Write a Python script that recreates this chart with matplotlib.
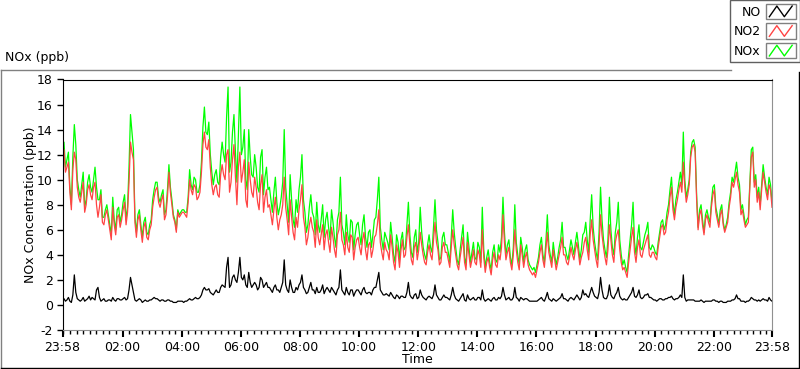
import matplotlib
matplotlib.use('Agg')
from matplotlib import pyplot as plt
from matplotlib import dates as mdates
from matplotlib.legend_handler import HandlerBase
from matplotlib.lines import Line2D
from matplotlib.patches import Rectangle
import pandas as pd

plt.rcParams['font.family'] = 'DejaVu Sans'
plt.rcParams['axes.unicode_minus'] = False

# 3-minute samples, 23:58 -> 23:58 next day (one row per hour)
start = '2021-03-01 23:58'
step = '3min'

no2 = [11.8, 12.4, 10.6, 11.0, 11.4, 9.0, 7.6, 10.8, 12.2, 11.6, 9.4, 8.6, 8.2, 9.0, 9.8, 7.4, 8.0, 9.2, 9.6, 8.8,
       8.4, 9.4, 9.8, 8.0, 7.0, 7.8, 8.8, 6.6, 6.4, 7.2, 7.6, 6.8, 6.0, 5.2, 7.8, 6.4, 5.6, 7.0, 7.2, 6.2,
       6.8, 7.6, 8.2, 6.4, 7.4, 9.8, 13.0, 12.2, 11.6, 6.6, 5.4, 6.8, 7.2, 6.0, 5.0, 6.2, 6.6, 5.4, 5.2, 6.0,
       6.4, 7.8, 8.6, 9.2, 9.4, 8.2, 7.8, 8.4, 8.8, 6.8, 7.2, 8.6, 10.6, 9.0, 8.0, 7.0, 6.6, 5.8, 7.4, 7.0,
       7.2, 7.4, 7.4, 7.2, 7.0, 8.2, 10.0, 9.2, 8.8, 9.6, 9.4, 8.4, 8.6, 9.0, 10.6, 12.8, 13.8, 12.6, 12.4, 13.2,
       11.0, 9.6, 8.8, 9.4, 9.6, 8.8, 8.6, 10.4, 11.2, 10.4, 10.0, 12.0, 12.4, 9.0, 9.8, 11.6, 12.8, 10.2, 8.0, 11.0,
       12.2, 9.8, 10.6, 11.6, 8.4, 7.8, 11.4, 10.0, 9.0, 8.6, 10.2, 9.4, 8.2, 7.6, 9.6, 10.4, 7.4, 8.6, 9.2, 7.8,
       8.0, 7.2, 6.4, 7.6, 8.6, 7.0, 6.0, 6.8, 7.2, 8.0, 10.2, 7.8, 6.8, 5.6, 8.4, 7.0, 5.8, 5.2, 7.0, 6.2,
       7.6, 8.4, 9.6, 7.0, 6.2, 4.8, 5.4, 6.4, 7.0, 6.2, 5.8, 4.6, 6.8, 5.4, 4.8, 5.6, 6.4, 4.4, 5.6, 6.0,
       5.0, 4.2, 6.2, 5.4, 4.4, 3.8, 5.6, 6.0, 7.4, 5.2, 4.8, 4.0, 5.8, 4.6, 4.2, 5.6, 5.4, 3.6, 4.6, 5.2,
       5.4, 4.6, 4.0, 5.2, 5.8, 4.4, 3.6, 4.8, 5.0, 3.8, 4.4, 5.4, 5.6, 6.4, 7.6, 5.0, 4.2, 3.6, 5.0, 4.4,
       4.2, 3.6, 5.6, 4.6, 3.4, 2.8, 4.8, 4.2, 3.0, 4.4, 5.2, 3.8, 4.0, 5.4, 6.4, 4.8, 3.6, 3.2, 4.6, 5.0,
       3.6, 4.4, 5.8, 4.8, 4.0, 3.4, 3.2, 4.2, 4.8, 4.0, 3.6, 5.2, 6.6, 5.0, 4.4, 3.2, 3.4, 4.6, 5.0, 4.2,
       4.2, 3.6, 3.0, 4.6, 6.0, 4.8, 4.0, 3.2, 2.8, 3.8, 4.6, 5.4, 3.4, 2.8, 5.0, 4.0, 3.0, 3.6, 4.4, 3.4,
       3.2, 4.4, 4.0, 3.0, 6.0, 3.8, 2.6, 3.4, 3.8, 3.0, 2.4, 3.6, 4.2, 3.2, 3.0, 4.0, 3.6, 4.6, 7.2, 5.0,
       3.6, 4.2, 4.6, 3.4, 2.8, 4.0, 6.0, 4.4, 3.4, 2.8, 4.8, 4.0, 3.0, 3.8, 4.2, 3.2, 2.8, 2.6, 2.4, 2.6,
       2.2, 2.8, 3.4, 4.2, 4.8, 3.6, 3.0, 4.4, 5.8, 4.2, 3.6, 3.0, 4.4, 3.6, 2.8, 3.4, 4.0, 4.6, 5.4, 4.0,
       4.0, 3.4, 3.2, 3.8, 4.6, 4.0, 3.6, 4.4, 5.0, 4.2, 3.2, 3.8, 4.2, 5.0, 5.4, 4.4, 3.6, 5.6, 6.8, 5.2,
       4.4, 3.6, 3.0, 4.8, 7.2, 5.6, 4.6, 3.8, 3.2, 4.4, 6.4, 5.2, 4.0, 3.4, 5.0, 5.6, 6.0, 4.4, 3.4, 2.8,
       3.0, 2.6, 2.2, 3.4, 4.4, 5.4, 6.2, 4.2, 3.4, 4.6, 5.2, 4.0, 3.8, 4.4, 4.8, 5.2, 5.6, 4.0, 3.8, 4.2,
       4.2, 3.8, 3.6, 4.6, 5.4, 6.2, 6.4, 5.6, 5.8, 6.8, 7.4, 8.6, 9.4, 7.6, 6.8, 7.8, 8.4, 9.2, 9.8, 9.0,
       11.4, 9.4, 8.2, 8.8, 9.6, 11.8, 12.6, 12.8, 12.2, 8.4, 6.0, 7.2, 7.6, 6.4, 5.6, 6.8, 7.2, 6.6, 6.2, 7.8,
       8.8, 9.2, 7.4, 6.8, 6.2, 7.2, 7.6, 6.4, 5.8, 6.2, 6.6, 7.8, 8.6, 9.8, 9.4, 10.0, 10.6, 9.6, 9.0, 7.2,
       7.6, 6.8, 6.2, 6.4, 6.6, 9.4, 11.8, 12.2, 9.4, 10.0, 8.2, 9.0, 7.6, 9.2, 10.6, 9.8, 9.0, 8.4, 9.6, 9.2, 7.8]

no = [0.4, 0.5, 0.3, 0.4, 0.6, 0.3, 0.2, 0.8, 2.4, 1.0, 0.5, 0.4, 0.3, 0.4, 0.6, 0.3, 0.4, 0.5, 0.7, 0.4,
      0.6, 0.5, 0.4, 1.2, 1.4, 0.6, 0.3, 0.4, 0.5, 0.3, 0.3, 0.4, 0.4, 0.3, 0.6, 0.4, 0.3, 0.5, 0.5, 0.4,
      0.4, 0.5, 0.6, 0.4, 0.5, 1.2, 2.2, 1.6, 1.0, 0.4, 0.3, 0.4, 0.5, 0.4, 0.2, 0.3, 0.4, 0.3, 0.3, 0.4,
      0.4, 0.5, 0.6, 0.5, 0.5, 0.4, 0.3, 0.4, 0.4, 0.3, 0.3, 0.4, 0.4, 0.3, 0.3, 0.2, 0.2, 0.2, 0.3, 0.3,
      0.3, 0.3, 0.2, 0.3, 0.3, 0.4, 0.5, 0.4, 0.4, 0.5, 0.6, 0.5, 0.5, 0.6, 0.8, 1.2, 1.4, 1.2, 1.2, 1.3,
      1.0, 0.9, 0.8, 1.0, 1.2, 1.0, 1.0, 1.4, 1.6, 1.5, 1.4, 3.0, 3.8, 1.4, 1.6, 2.2, 2.4, 2.0, 1.8, 2.6,
      3.8, 2.2, 2.0, 2.4, 1.6, 1.4, 2.6, 1.8, 1.4, 1.6, 1.8, 1.6, 1.2, 1.4, 2.2, 2.0, 1.4, 1.6, 1.8, 1.4,
      1.4, 1.2, 1.0, 1.4, 1.6, 1.2, 1.2, 1.0, 1.4, 1.8, 3.6, 1.6, 1.2, 1.0, 2.0, 1.4, 1.0, 1.0, 1.4, 1.2,
      1.6, 1.8, 2.4, 1.4, 1.2, 0.9, 1.0, 1.4, 1.8, 1.2, 1.2, 0.9, 1.4, 1.0, 1.0, 1.2, 1.6, 0.9, 1.2, 1.4,
      1.2, 1.0, 1.4, 1.2, 1.0, 0.8, 1.2, 1.4, 2.8, 1.2, 1.0, 0.8, 1.4, 1.0, 0.8, 1.2, 1.2, 0.7, 1.0, 1.2,
      1.2, 1.0, 0.8, 1.2, 1.4, 1.0, 0.9, 1.0, 1.0, 0.8, 1.2, 1.4, 1.4, 2.0, 2.6, 1.2, 1.0, 0.8, 0.8, 0.9,
      0.8, 0.7, 1.0, 0.8, 0.6, 0.5, 0.8, 0.7, 0.5, 0.7, 0.7, 0.6, 0.6, 1.0, 1.8, 0.8, 0.6, 0.5, 0.8, 0.9,
      0.5, 0.6, 1.2, 0.8, 0.6, 0.5, 0.4, 0.6, 0.7, 0.6, 0.5, 0.8, 1.6, 0.8, 0.6, 0.4, 0.4, 0.6, 0.8, 0.6,
      0.6, 0.5, 0.4, 0.8, 1.4, 0.8, 0.5, 0.4, 0.3, 0.5, 0.7, 0.9, 0.4, 0.3, 0.8, 0.5, 0.4, 0.5, 0.6, 0.4,
      0.4, 0.6, 0.6, 0.4, 1.2, 0.5, 0.3, 0.4, 0.5, 0.4, 0.3, 0.5, 0.6, 0.4, 0.4, 0.6, 0.5, 0.7, 1.4, 0.8,
      0.4, 0.5, 0.6, 0.4, 0.4, 0.6, 1.4, 0.6, 0.5, 0.3, 0.6, 0.5, 0.4, 0.5, 0.5, 0.4, 0.3, 0.3, 0.3, 0.3,
      0.3, 0.3, 0.4, 0.5, 0.6, 0.4, 0.3, 0.6, 1.0, 0.5, 0.4, 0.3, 0.5, 0.4, 0.3, 0.4, 0.5, 0.6, 0.9, 0.5,
      0.5, 0.4, 0.3, 0.5, 0.6, 0.5, 0.4, 0.6, 0.8, 0.6, 0.4, 0.6, 1.2, 0.8, 0.9, 0.7, 0.6, 1.0, 1.4, 1.0,
      0.7, 0.6, 0.5, 1.0, 2.2, 1.2, 0.6, 0.5, 0.5, 0.8, 1.6, 0.8, 0.6, 0.5, 0.8, 1.0, 1.4, 0.7, 0.5, 0.4,
      0.5, 0.4, 0.4, 0.6, 0.8, 1.0, 1.4, 0.7, 0.6, 0.8, 1.2, 0.6, 0.5, 0.6, 0.8, 0.8, 0.9, 0.6, 0.6, 0.5,
      0.4, 0.4, 0.3, 0.4, 0.5, 0.5, 0.4, 0.4, 0.5, 0.5, 0.6, 0.6, 0.7, 0.5, 0.4, 0.5, 0.5, 0.6, 0.8, 0.6,
      2.4, 0.6, 0.3, 0.4, 0.4, 0.4, 0.4, 0.4, 0.3, 0.3, 0.3, 0.3, 0.4, 0.3, 0.2, 0.3, 0.3, 0.3, 0.3, 0.3,
      0.4, 0.4, 0.3, 0.3, 0.2, 0.3, 0.3, 0.2, 0.2, 0.2, 0.3, 0.3, 0.3, 0.4, 0.4, 0.5, 0.8, 0.5, 0.5, 0.3,
      0.3, 0.3, 0.2, 0.3, 0.3, 0.4, 0.6, 0.5, 0.4, 0.4, 0.3, 0.4, 0.3, 0.4, 0.5, 0.4, 0.4, 0.3, 0.6, 0.4, 0.3]

nox = [12.4, 13.0, 11.0, 11.6, 12.2, 9.4, 8.0, 11.8, 14.4, 12.8, 10.0, 9.2, 8.6, 9.6, 10.6, 7.8, 8.4, 9.8, 10.4, 9.4,
       9.0, 10.0, 11.0, 9.4, 8.4, 8.4, 9.2, 7.0, 7.0, 7.6, 8.0, 7.2, 6.4, 5.6, 8.6, 6.8, 6.0, 7.6, 7.8, 6.6,
       7.2, 8.2, 8.8, 6.8, 7.8, 11.0, 15.2, 13.8, 12.4, 7.0, 5.8, 7.2, 7.6, 6.4, 5.4, 6.6, 7.0, 5.8, 5.6, 6.4,
       6.8, 8.4, 9.2, 9.8, 9.8, 8.6, 8.2, 8.8, 9.2, 7.2, 7.6, 9.2, 11.2, 9.4, 8.4, 7.2, 6.8, 6.0, 7.6, 7.2,
       7.4, 7.6, 7.6, 7.4, 7.4, 8.6, 10.8, 9.6, 9.2, 10.2, 10.0, 9.0, 9.0, 9.6, 11.4, 14.2, 15.8, 13.8, 13.6, 14.6,
       12.0, 10.6, 9.6, 10.4, 10.8, 9.8, 9.6, 11.8, 13.0, 12.0, 11.4, 15.0, 17.4, 10.6, 11.4, 13.8, 15.2, 12.2, 9.8, 13.6,
       17.4, 12.0, 12.6, 14.0, 10.0, 9.2, 14.0, 11.8, 10.4, 10.2, 12.0, 11.0, 9.4, 9.0, 11.8, 12.4, 8.8, 10.2, 11.0, 9.2,
       9.4, 8.4, 7.4, 9.0, 10.2, 8.2, 7.2, 7.8, 8.6, 9.8, 14.0, 9.4, 8.0, 6.6, 10.4, 8.4, 6.8, 6.2, 8.4, 7.4,
       9.2, 10.2, 12.0, 8.4, 7.4, 5.8, 6.4, 7.8, 8.8, 7.4, 7.0, 5.6, 8.2, 6.4, 5.8, 6.8, 8.0, 5.4, 6.8, 7.4,
       6.2, 5.2, 7.6, 6.6, 5.4, 4.6, 6.8, 7.4, 10.2, 6.4, 5.8, 4.8, 7.2, 5.6, 5.0, 6.8, 6.6, 4.4, 5.6, 6.4,
       6.6, 5.6, 4.8, 6.4, 7.2, 5.4, 4.6, 5.8, 6.0, 4.6, 5.6, 6.8, 7.0, 8.4, 10.2, 6.2, 5.2, 4.4, 5.8, 5.4,
       5.0, 4.4, 6.6, 5.4, 4.0, 3.4, 5.6, 5.0, 3.6, 5.2, 5.8, 4.4, 4.6, 6.4, 8.2, 5.6, 4.2, 3.8, 5.4, 6.0,
       4.2, 5.0, 7.8, 5.8, 4.6, 4.0, 3.6, 4.8, 5.6, 4.6, 4.2, 6.2, 8.4, 6.0, 5.0, 3.6, 3.8, 5.4, 5.8, 4.8,
       4.8, 4.2, 3.4, 5.4, 7.6, 5.8, 4.6, 3.6, 3.2, 4.4, 5.4, 6.4, 3.8, 3.2, 5.8, 4.6, 3.4, 4.2, 5.0, 3.8,
       3.6, 5.0, 4.6, 3.4, 7.8, 4.4, 3.0, 3.8, 4.4, 3.4, 2.8, 4.2, 4.8, 3.6, 3.4, 4.8, 4.2, 5.4, 8.6, 5.8,
       4.0, 4.8, 5.2, 3.8, 3.2, 4.6, 8.0, 5.0, 4.0, 3.2, 5.4, 4.6, 3.4, 4.4, 4.8, 3.6, 3.2, 3.0, 2.8, 3.0,
       2.6, 3.2, 3.8, 4.8, 5.4, 4.0, 3.4, 5.0, 7.2, 4.8, 4.0, 3.4, 5.0, 4.0, 3.2, 3.8, 4.6, 5.2, 6.6, 4.6,
       4.6, 4.0, 3.6, 4.4, 5.2, 4.6, 4.0, 5.0, 5.8, 4.8, 3.6, 4.4, 5.6, 5.8, 6.6, 5.2, 4.2, 6.8, 8.8, 6.2,
       5.0, 4.2, 3.6, 5.8, 9.4, 6.8, 5.2, 4.4, 3.8, 5.2, 8.6, 6.0, 4.6, 4.0, 5.8, 6.6, 8.2, 5.2, 4.0, 3.2,
       3.6, 3.0, 2.6, 4.0, 5.2, 6.4, 8.2, 5.0, 4.0, 5.4, 6.4, 4.6, 4.4, 5.0, 5.6, 6.0, 6.6, 4.6, 4.4, 4.8,
       4.6, 4.2, 4.0, 5.0, 5.8, 6.6, 6.8, 6.0, 6.4, 7.4, 8.0, 9.2, 10.2, 8.2, 7.2, 8.4, 9.0, 9.8, 10.6, 9.6,
       13.8, 10.0, 8.6, 9.2, 10.0, 12.2, 13.0, 13.2, 12.6, 8.8, 6.2, 7.6, 8.0, 6.8, 5.8, 7.2, 7.6, 7.0, 6.6, 8.2,
       9.4, 9.6, 7.8, 7.2, 6.4, 7.6, 8.0, 6.6, 6.0, 6.4, 7.0, 8.2, 9.0, 10.2, 9.8, 10.6, 11.4, 10.2, 9.6, 7.6,
       8.0, 7.2, 6.4, 6.8, 7.0, 9.8, 12.4, 12.6, 9.8, 10.4, 8.6, 9.4, 8.0, 9.6, 11.2, 10.2, 9.4, 8.8, 10.2, 9.6, 8.2]

times = pd.date_range(start, periods=len(no2), freq=step)

W, H = 800, 369
fig = plt.figure(figsize=(W / 100, H / 100), dpi=100)


def fx(px):
    return px / W


def fy(py):
    return 1 - py / H


# outer panel frame
frame_kw = dict(transform=fig.transFigure, lw=1)
fig.add_artist(Line2D([fx(0.5), fx(731)], [fy(69.5), fy(69.5)], color='#808080', **frame_kw))
fig.add_artist(Line2D([fx(0.5), fx(0.5)], [fy(69.5), fy(368)], color='#808080', **frame_kw))
fig.add_artist(Line2D([fx(0.5), fx(799)], [fy(368), fy(368)], color='#000000', **frame_kw))
fig.add_artist(Line2D([fx(798.5), fx(798.5)], [fy(72), fy(368)], color='#000000', **frame_kw))

fig.text(fx(5), fy(57), 'NOx (ppb)', fontsize=9, ha='left', va='center')

ax = fig.add_axes([fx(62.5), fy(330), fx(772 - 62.5), (330 - 79.5) / H])
ax.plot(times, nox, color='#00ff00', lw=0.9)
ax.plot(times, no2, color='#ff4444', lw=0.9)
ax.plot(times, no, color='black', lw=0.9)

ax.set_xlim(times[0], times[-1])
ax.set_ylim(-2, 18)
ax.set_yticks(range(-2, 19, 2))

day2 = times[0].normalize() + pd.Timedelta(days=1)
majors = [times[0]] + [day2 + pd.Timedelta(hours=h) for h in range(2, 23, 2)] + [times[-1]]
ax.set_xticks(majors)
ax.xaxis.set_major_formatter(mdates.DateFormatter('%H:%M'))
minors = []
t = day2 + pd.Timedelta(hours=2)
while t > times[0]:
    t -= pd.Timedelta(minutes=40 / 3)
t += pd.Timedelta(minutes=40 / 3)
while t < times[-1]:
    minors.append(t)
    t += pd.Timedelta(minutes=40 / 3)
ax.set_xticks(minors, minor=True)

ax.tick_params(axis='both', which='major', labelsize=9, length=4, width=1, direction='out', pad=3)
ax.tick_params(axis='x', which='major', length=5, width=1.5)
ax.tick_params(axis='x', which='minor', length=3, width=1)

for side in ('top', 'left'):
    ax.spines[side].set_color('black')
for side in ('bottom', 'right'):
    ax.spines[side].set_color('#909090')

ax.set_ylabel('NOx Concentration (ppb)', fontsize=9)
ax.yaxis.set_label_coords(-0.036, 0.5)
ax.set_xlabel('Time', fontsize=9)
ax.xaxis.set_label_coords(0.5, -0.09)


class ZigZag(HandlerBase):
    def create_artists(self, legend, orig_handle, xdescent, ydescent,
                       width, height, fontsize, trans):
        box = Rectangle((-xdescent, -ydescent), width, height, fill=False,
                        edgecolor='#808080', lw=1, transform=trans)
        xs = [-xdescent + width * f for f in (0.12, 0.37, 0.62, 0.88)]
        ys = [-ydescent + height * f for f in (0.15, 0.85, 0.15, 0.85)]
        zz = Line2D(xs, ys, color=orig_handle.get_color(), lw=1, transform=trans)
        return [box, zz]


handles = [Line2D([], [], color='black'), Line2D([], [], color='#ff4444'),
           Line2D([], [], color='#00ff00')]
leg = fig.legend(handles, ['NO', 'NO2', 'NOx'], loc='upper right',
                 bbox_to_anchor=(fx(799.5), fy(0)), markerfirst=False,
                 handler_map={Line2D: ZigZag()}, fontsize=9,
                 handlelength=2.4, handleheight=1.5, labelspacing=0.35,
                 borderpad=0.3, handletextpad=0.4, borderaxespad=0,
                 fancybox=False, framealpha=1, edgecolor='#606060')
leg.get_frame().set_linewidth(1)

fig.savefig('out.png', dpi=100)
